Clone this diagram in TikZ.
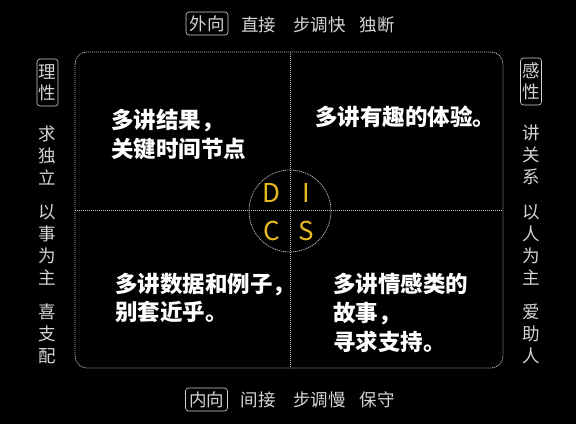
\documentclass[tikz,border=0pt]{standalone}
\usepackage{fontspec}
\newfontfamily\cjk{Noto Sans CJK SC}
\definecolor{dyellow}{RGB}{232,184,32}
\definecolor{sidegray}{RGB}{212,212,212}
\definecolor{linegray}{RGB}{195,195,195}
\tikzset{
  dline/.style={draw=linegray, line width=0.7pt, dash pattern=on 1.2pt off 0.8pt},
  quad/.style={font=\cjk\bfseries\fontsize{22.5}{27}\selectfont, text=white, anchor=base west, inner sep=0pt},
  side/.style={font=\cjk\fontsize{17.5}{22}\selectfont, text=sidegray, inner sep=0pt},
  vside/.style={side, align=center},
  htag/.style={side, draw=sidegray, line width=0.6pt, rounded corners=3pt, minimum width=42pt, minimum height=23pt},
  vtag/.style={side, align=center, font=\cjk\fontsize{17.5}{21}\selectfont, draw=sidegray, line width=0.6pt, rounded corners=3pt, minimum width=21pt, minimum height=47pt},
  letter/.style={font=\cjk\fontsize{26}{26}\selectfont, text=dyellow, inner sep=0pt}
}
\begin{document}
\begin{tikzpicture}[x=1pt,y=-1pt]
\useasboundingbox (0,0) rectangle (576,424);
\fill[black] (0,0) rectangle (576,424);
% frame
\coordinate (tl) at (75,52);
\coordinate (br) at (503,368);
\coordinate (tm) at (290,52);
\coordinate (bm) at (290,368);
\coordinate (ml) at (75,210);
\coordinate (mr) at (503,210);
\coordinate (c) at (290,211);
\draw[dline, rounded corners=12pt] (tl) rectangle (br);
\draw[dline] (tm) -- (bm);
\draw[dline] (ml) -- (mr);
\draw[dline] (c) circle[radius=41pt];
% DISC letters
\node[letter] (D) at (271.5,192.5) {D};
\node[letter] (I) at (306,192.5) {I};
\node[letter] (C) at (271.5,230.5) {C};
\node[letter] (S) at (306.5,230.5) {S};
% quadrant texts
\node[quad] (q1a) at (111,128) {多讲结果，};
\node[quad] (q1b) at (111,157) {关键时间节点};
\node[quad] (q2a) at (315,125) {多讲有趣的体验。};
\node[quad] (q3a) at (115,292) {多讲数据和例子，};
\node[quad] (q3b) at (115,320) {别套近乎。};
\node[quad] (q4a) at (333,292) {多讲情感类的};
\node[quad] (q4b) at (333,321) {故事，};
\node[quad] (q4c) at (333,350) {寻求支持。};
% top
\node[htag] (wx) at (207,23.5) {外向};
\node[side, anchor=base] (t1) at (258.5,31) {直接};
\node[side, anchor=base] (t2) at (319.5,31) {步调快};
\node[side, anchor=base] (t3) at (377,31) {独断};
% bottom
\node[htag] (nx) at (206.5,399.5) {内向};
\node[side, anchor=base] (b1) at (258,406) {间接};
\node[side, anchor=base] (b2) at (319.5,406) {步调慢};
\node[side, anchor=base] (b3) at (377,406) {保守};
% left
\node[vtag] (lx) at (47.5,82.5) {理\\性};
\node[vside] (l1) at (47,155) {求\\独\\立};
\node[vside] (l2) at (47,244.5) {以\\事\\为\\主};
\node[vside] (l3) at (47,334) {喜\\支\\配};
% right
\node[vtag] (rx) at (531,81.5) {感\\性};
\node[vside] (r1) at (531,155) {讲\\关\\系};
\node[vside] (r2) at (531,244.5) {以\\人\\为\\主};
\node[vside] (r3) at (531,334) {爱\\助\\人};
\end{tikzpicture}
\end{document}
